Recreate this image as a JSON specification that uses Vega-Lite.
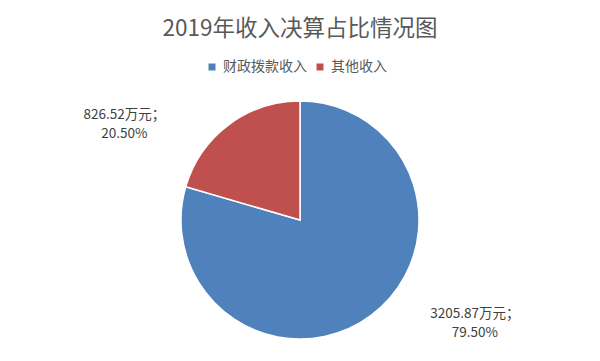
{
  "$schema": "https://vega.github.io/schema/vega-lite/v6.json",
  "width": 600,
  "height": 282,
  "autosize": "none",
  "padding": {"top": 79, "left": 0, "right": 0, "bottom": 0},
  "background": "white",
  "title": {
    "text": "2019年收入决算占比情况图",
    "font": "Noto Sans CJK SC",
    "fontSize": 22.5,
    "fontWeight": "normal",
    "color": "#595959",
    "anchor": "middle",
    "offset": 20
  },
  "data": {
    "values": [
      {"category": "财政拨款收入", "value": 3205.87, "label": "3205.87万元；\n79.50%", "ord": 1},
      {"category": "其他收入", "value": 826.52, "label": "826.52万元；\n20.50%", "ord": 2}
    ]
  },
  "encoding": {
    "theta": {"field": "value", "type": "quantitative", "stack": true},
    "order": {"field": "ord", "type": "quantitative"}
  },
  "layer": [
    {
      "mark": {"type": "arc", "outerRadius": 119, "stroke": "white", "strokeWidth": 1.5},
      "encoding": {
        "color": {
          "field": "category",
          "type": "nominal",
          "scale": {"domain": ["财政拨款收入", "其他收入"], "range": ["#4F81BD", "#C0504D"]},
          "sort": ["财政拨款收入", "其他收入"],
          "legend": {
            "title": null,
            "orient": "none",
            "direction": "horizontal",
            "legendX": 205,
            "legendY": -19,
            "symbolType": "square",
            "symbolSize": 49,
            "symbolStrokeWidth": 0,
            "labelFont": "Noto Sans CJK SC",
            "labelFontSize": 14,
            "labelColor": "#595959",
            "columnPadding": 6,
            "labelOffset": 4
          }
        }
      }
    },
    {
      "mark": {"type": "text", "radius": 131, "dx": -97, "align": "center", "baseline": "middle", "lineBreak": "\n", "lineHeight": 19, "font": "Noto Sans CJK SC", "fontSize": 13.5, "color": "#404040"},
      "encoding": {"text": {"condition": {"test": "datum.category === '其他收入'", "field": "label"}, "value": ""}}
    },
    {
      "mark": {"type": "text", "radius": 118, "dx": 104, "align": "center", "baseline": "middle", "lineBreak": "\n", "lineHeight": 19, "font": "Noto Sans CJK SC", "fontSize": 13.5, "color": "#404040"},
      "encoding": {"text": {"condition": {"test": "datum.category === '财政拨款收入'", "field": "label"}, "value": ""}}
    }
  ],
  "config": {"view": {"stroke": null}}
}
